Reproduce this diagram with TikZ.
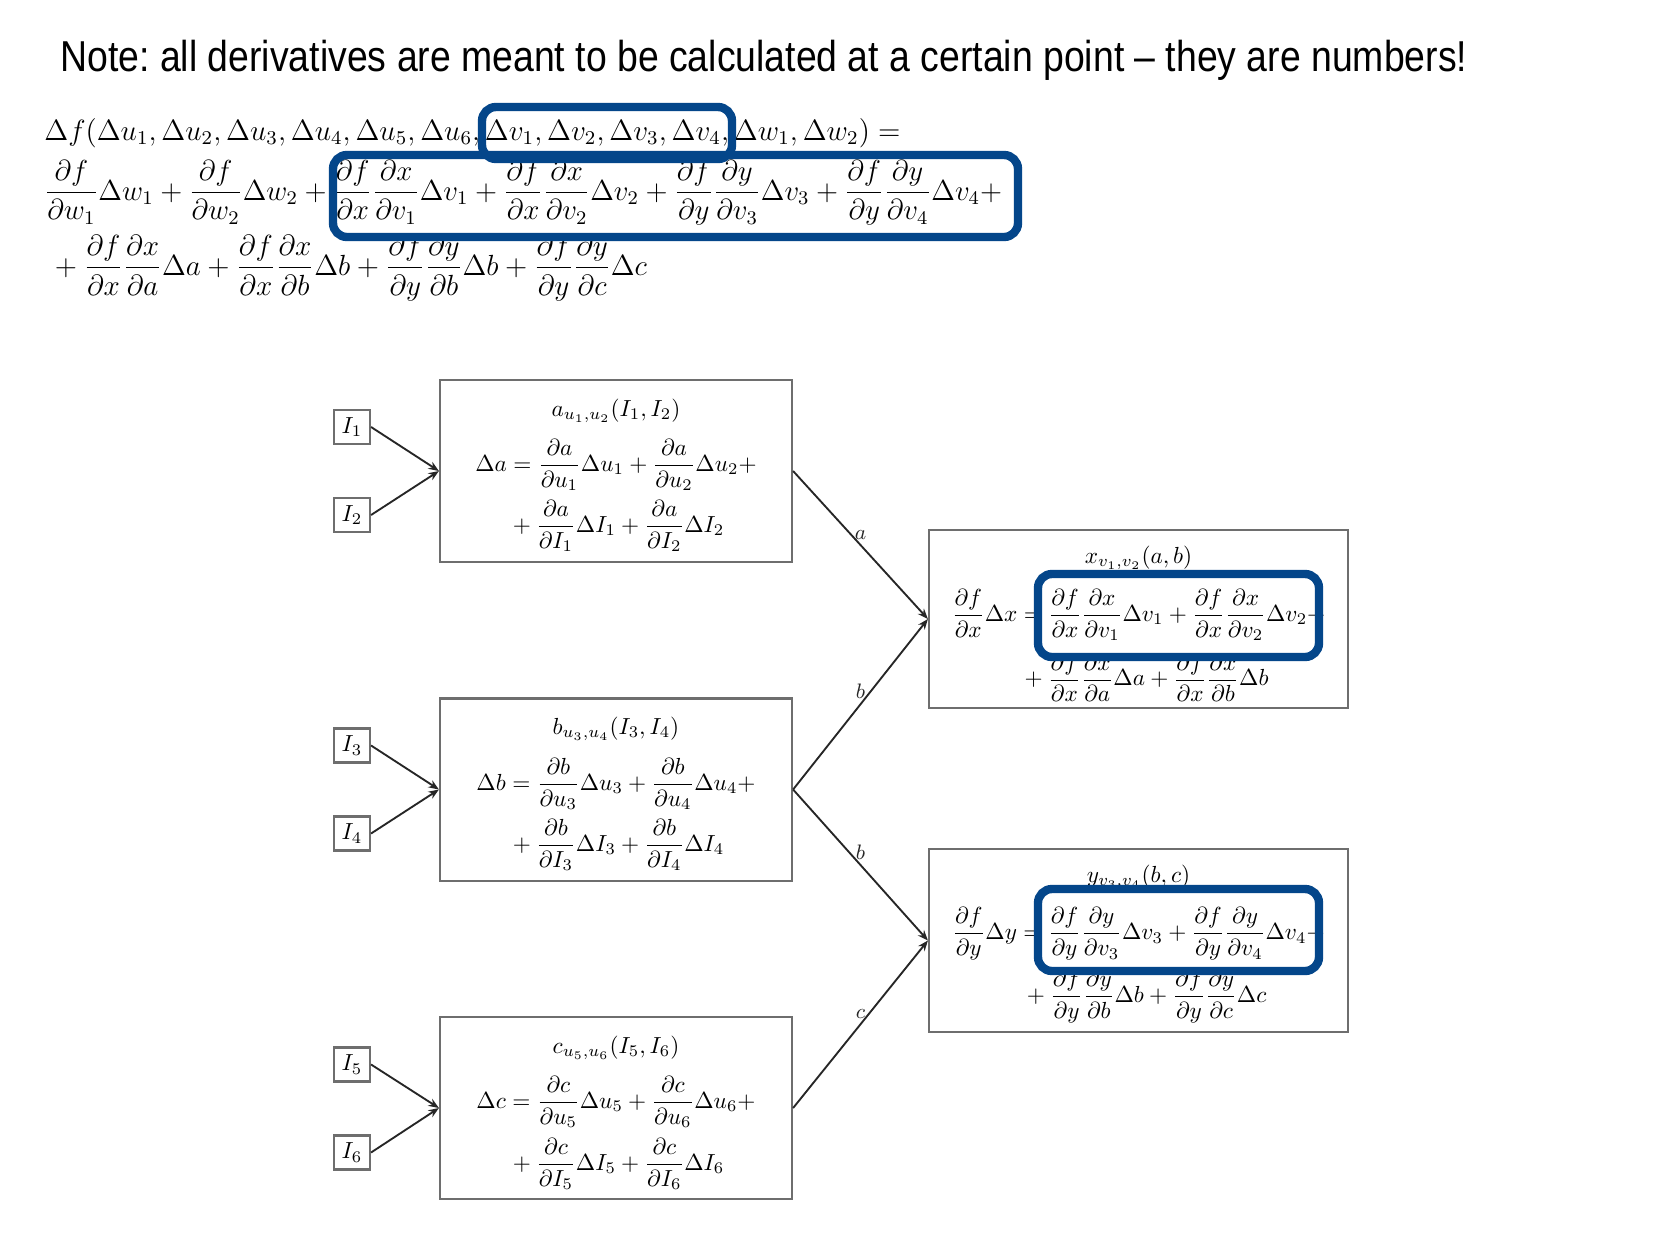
\documentclass[tikz,border=0pt]{standalone}
\usepackage{amsmath}
\usepackage{graphicx}
\usepackage{fontspec}
\newfontfamily\notefont{Liberation Sans}
\usetikzlibrary{arrows.meta}
\definecolor{hlblue}{RGB}{4,70,138}
\definecolor{boxgray}{RGB}{110,110,110}
\begin{document}
\begin{tikzpicture}[x=0.43pt,y=-0.43pt,
  inbox/.style={draw=boxgray, line width=0.9pt, inner sep=0pt, minimum width=15.5pt, minimum height=14.6pt, fill=white},
  fnbox/.style={draw=boxgray, line width=0.9pt, inner sep=0pt, minimum width=151.4pt, minimum height=78.3pt},
  gnbox/.style={draw=boxgray, line width=0.9pt, inner sep=0pt, minimum width=180.2pt},
  conn/.style={-{Stealth[length=4.5pt,width=3.5pt]}, line width=0.8pt, black!85},
  hl/.style={draw=hlblue, line width=3.6pt, rounded corners=6pt},
  lbl/.style={font=\small, midway, above, inner sep=2pt},
  eqtxt/.style={inner sep=0pt}]
\useasboundingbox (0,0) rectangle (1655,1240);
\fill[white] (0,0) rectangle (1655,1240);

% note
\node[anchor=base west, inner sep=0pt] (note) at (60,71) {\resizebox{605pt}{\height}{\notefont\fontsize{18.6}{22}\selectfont\frenchspacing Note: all derivatives are meant to be calculated at a certain point \textendash{} they are numbers!}};

% top formula
\node[anchor=base west, eqtxt, font=\large] (eq1) at (44,140) {\scalebox{1.05}{$\Delta f(\Delta u_1, \Delta u_2, \Delta u_3, \Delta u_4, \Delta u_5, \Delta u_6, \Delta v_1, \Delta v_2, \Delta v_3, \Delta v_4, \Delta w_1, \Delta w_2) =$}};
\node[anchor=west, eqtxt, font=\large] (eq2) at (44,193) {\scalebox{1.037}{$\displaystyle \frac{\partial f}{\partial w_1}\Delta w_1 + \frac{\partial f}{\partial w_2}\Delta w_2 + \frac{\partial f}{\partial x}\frac{\partial x}{\partial v_1}\Delta v_1 + \frac{\partial f}{\partial x}\frac{\partial x}{\partial v_2}\Delta v_2 + \frac{\partial f}{\partial y}\frac{\partial y}{\partial v_3}\Delta v_3 + \frac{\partial f}{\partial y}\frac{\partial y}{\partial v_4}\Delta v_4 +$}};
\node[anchor=west, eqtxt, font=\large] (eq3) at (48,268) {\scalebox{1.045}{$\displaystyle {}+\frac{\partial f}{\partial x}\frac{\partial x}{\partial a}\Delta a + \frac{\partial f}{\partial x}\frac{\partial x}{\partial b}\Delta b + \frac{\partial f}{\partial y}\frac{\partial y}{\partial b}\Delta b + \frac{\partial f}{\partial y}\frac{\partial y}{\partial c}\Delta c$}};

% input boxes
\node[inbox] (i1) at (352,427) {$I_1$};
\node[inbox] (i2) at (352,515) {$I_2$};
\node[inbox] (i3) at (352,745.5) {$I_3$};
\node[inbox] (i4) at (352,833.5) {$I_4$};
\node[inbox] (i5) at (352,1064.5) {$I_5$};
\node[inbox] (i6) at (352,1152.5) {$I_6$};

% function boxes
\node[fnbox] (boxa) at (616,471) {};
\node[fnbox] (boxb) at (616,789.5) {};
\node[fnbox] (boxc) at (616,1108) {};
\node[gnbox, minimum height=76.5pt] (boxx) at (1138.5,619) {};
\node[gnbox, minimum height=78.7pt] (boxy) at (1138.5,940.5) {};

% box a
\node[eqtxt] (ta) at (616,411) {$a_{u_1,u_2}(I_1,I_2)$};
\node[eqtxt] (la2) at (616,465) {$\displaystyle \Delta a = \frac{\partial a}{\partial u_1}\Delta u_1 + \frac{\partial a}{\partial u_2}\Delta u_2+$};
\node[eqtxt] (la3) at (616,526) {$\displaystyle {}+\frac{\partial a}{\partial I_1}\Delta I_1 + \frac{\partial a}{\partial I_2}\Delta I_2$};
% box b
\node[eqtxt] (tb) at (616,729) {$b_{u_3,u_4}(I_3,I_4)$};
\node[eqtxt] (lb2) at (616,784) {$\displaystyle \Delta b = \frac{\partial b}{\partial u_3}\Delta u_3 + \frac{\partial b}{\partial u_4}\Delta u_4+$};
\node[eqtxt] (lb3) at (616,845) {$\displaystyle {}+\frac{\partial b}{\partial I_3}\Delta I_3 + \frac{\partial b}{\partial I_4}\Delta I_4$};
% box c
\node[eqtxt] (tc) at (616,1048) {$c_{u_5,u_6}(I_5,I_6)$};
\node[eqtxt] (lc2) at (616,1102) {$\displaystyle \Delta c = \frac{\partial c}{\partial u_5}\Delta u_5 + \frac{\partial c}{\partial u_6}\Delta u_6+$};
\node[eqtxt] (lc3) at (616,1164) {$\displaystyle {}+\frac{\partial c}{\partial I_5}\Delta I_5 + \frac{\partial c}{\partial I_6}\Delta I_6$};
% box x
\node[eqtxt] (tx) at (1138.5,558) {$x_{v_1,v_2}(a,b)$};
\node[eqtxt] (lx2) at (1138.5,615) {$\displaystyle \frac{\partial f}{\partial x}\Delta x = \frac{\partial f}{\partial x}\frac{\partial x}{\partial v_1}\Delta v_1 + \frac{\partial f}{\partial x}\frac{\partial x}{\partial v_2}\Delta v_2+$};
\node[eqtxt] (lx3) at (1144,678) {$\displaystyle {}+\frac{\partial f}{\partial x}\frac{\partial x}{\partial a}\Delta a + \frac{\partial f}{\partial x}\frac{\partial x}{\partial b}\Delta b$};
% box y
\node[eqtxt] (ty) at (1138.5,877) {$y_{v_3,v_4}(b,c)$};
\node[eqtxt] (ly2) at (1138.5,934) {$\displaystyle \frac{\partial f}{\partial y}\Delta y = \frac{\partial f}{\partial y}\frac{\partial y}{\partial v_3}\Delta v_3 + \frac{\partial f}{\partial y}\frac{\partial y}{\partial v_4}\Delta v_4+$};
\node[eqtxt] (ly3) at (1144,997) {$\displaystyle {}+\frac{\partial f}{\partial y}\frac{\partial y}{\partial b}\Delta b + \frac{\partial f}{\partial y}\frac{\partial y}{\partial c}\Delta c$};

% connectors
\draw[conn] (i1.east) -- (boxa.west);
\draw[conn] (i2.east) -- (boxa.west);
\draw[conn] (i3.east) -- (boxb.west);
\draw[conn] (i4.east) -- (boxb.west);
\draw[conn] (i5.east) -- (boxc.west);
\draw[conn] (i6.east) -- (boxc.west);
\draw[conn] (boxa.east) -- node[lbl] (la) {$a$} (boxx.west);
\draw[conn] (boxb.east) -- node[lbl] (lb1) {$b$} (boxx.west);
\draw[conn] (boxb.east) -- node[lbl] (lb2) {$b$} (boxy.west);
\draw[conn] (boxc.east) -- node[lbl] (lc) {$c$} (boxy.west);

% highlights
\draw[hl] (482,107) rectangle (732,159);
\draw[hl] (333,155) rectangle (1018,237);
\draw[hl] (1038,574) rectangle (1319,657);
\draw[hl] (1038,889) rectangle (1319,971);
\end{tikzpicture}
\end{document}
